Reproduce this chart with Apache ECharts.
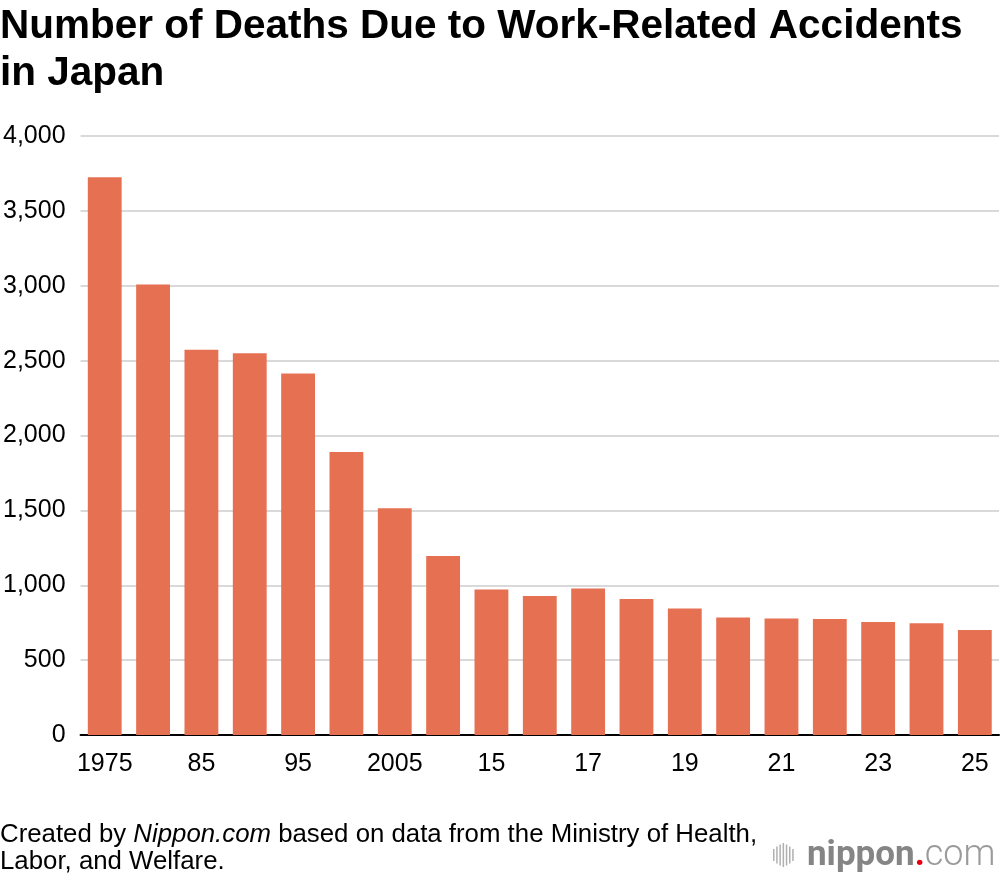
<!DOCTYPE html>
<html>
<head>
<meta charset="utf-8">
<script src="https://cdn.jsdelivr.net/npm/echarts@6/dist/echarts.min.js"></script>
<style>
  html, body { margin: 0; padding: 0; background: #fff; }
  #chart { width: 1000px; height: 880px; }
</style>
</head>
<body>
<div id="chart"></div>
<script>
// year labels as printed on the axis (every other one is shown)
const years = ['1975', '1980', '85', '90', '95', '2000', '2005', '10', '15', '16',
  '17', '18', '19', '20', '21', '22', '23', '24', '25'];
// work-related accident deaths
const deaths = [3725, 3009, 2572, 2550, 2414, 1889, 1514, 1195, 972, 928,
  978, 909, 845, 784, 778, 774, 755, 746, 702];
const yTicks = [0, 500, 1000, 1500, 2000, 2500, 3000, 3500, 4000];

const font = '"Liberation Sans", Arial, Helvetica, sans-serif';

const chart = echarts.init(document.getElementById('chart'));

// little sound-wave icon of the logo
const waveHeights = [12, 17, 21, 24, 21, 17, 12];
const wave = waveHeights.map((h, i) => ({
  type: 'rect',
  shape: { x: 773 + i * 3.2, y: 855 - h / 2, width: 1.5, height: h },
  style: { fill: '#b0b0b0' },
}));

const option = {
  animation: false,
  title: {
    text: 'Number of Deaths Due to Work-Related Accidents\nin Japan',
    left: 0,
    top: 3,
    padding: 0,
    textStyle: {
      fontFamily: font,
      fontWeight: 'bold',
      fontSize: 40.5,
      lineHeight: 47,
      color: '#000',
    },
  },
  grid: {
    left: 80,
    right: 1,
    top: 136,
    bottom: 145,
    containLabel: false,
  },
  xAxis: {
    type: 'category',
    data: years,
    axisTick: { show: false },
    axisLine: { lineStyle: { color: '#000', width: 2 } },
    axisLabel: {
      interval: 1,
      margin: 17,
      fontFamily: font,
      fontSize: 25,
      color: '#000',
    },
  },
  yAxis: {
    type: 'value',
    min: 0,
    max: 4000,
    interval: 500,
    axisLine: { show: false },
    axisTick: { show: false },
    splitLine: { lineStyle: { color: '#cccccc', width: 1.5 } },
    axisLabel: {
      margin: 15,
      fontFamily: font,
      fontSize: 25,
      color: '#000',
      formatter: (v) => (yTicks.includes(v) ? v.toLocaleString('en-US') : ''),
    },
  },
  series: [
    {
      type: 'bar',
      data: deaths,
      barWidth: '70%',
      itemStyle: { color: '#e67052' },
    },
  ],
  graphic: [
    {
      type: 'text',
      left: 0,
      top: 821,
      style: {
        text: 'Created by {i|Nippon.com} based on data from the Ministry of Health,\nLabor, and Welfare.',
        fontFamily: font,
        fontSize: 25.8,
        lineHeight: 27,
        fill: '#000',
        rich: {
          i: { fontFamily: font, fontSize: 25.8, fontStyle: 'italic', fill: '#000' },
        },
      },
    },
    ...wave,
    {
      type: 'text',
      x: 807,
      y: 856,
      style: {
        text: '{n|nippon}{d|.}{c|com}',
        verticalAlign: 'middle',
        rich: {
          n: { fontFamily: 'Roboto, sans-serif', fontSize: 35, fontWeight: 'bold', fill: '#858585' },
          d: { fontFamily: 'Roboto, sans-serif', fontSize: 35, fontWeight: 'bold', fill: '#e60012' },
          c: { fontFamily: 'Roboto, sans-serif', fontSize: 36, fontWeight: 300, fill: '#9a9a9a' },
        },
      },
    },
  ],
};

chart.setOption(option);
window.addEventListener('resize', () => chart.resize());
</script>
</body>
</html>
